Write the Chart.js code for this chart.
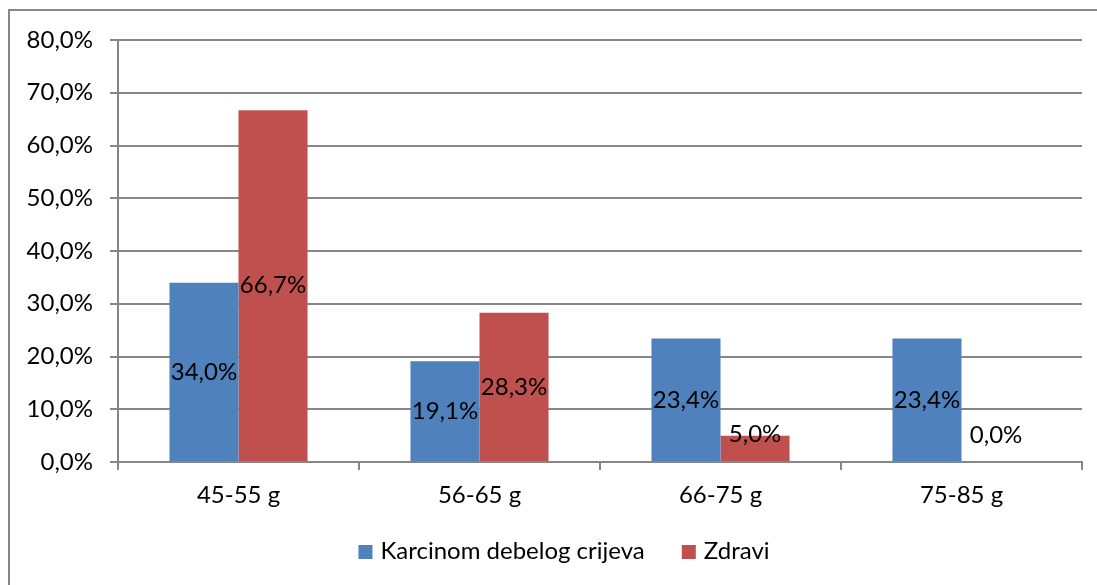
<!DOCTYPE html>
<html>
<head>
<meta charset="utf-8">
<script src="https://cdn.jsdelivr.net/npm/chart.js@4.4.0/dist/chart.umd.min.js"></script>
<style>
  html, body { margin: 0; padding: 0; background: #fff; }
  #wrap { position: relative; width: 1097px; height: 585px; }
</style>
</head>
<body>
<div id="wrap"><canvas id="chart-box1"></canvas></div>
<script>
const categories = ['45-55 g', '56-65 g', '66-75 g', '75-85 g']
const karcinom = [34.0, 19.1, 23.4, 23.4]
const zdravi = [66.7, 28.3, 5.0, 0.0]
const seriesNames = ['Karcinom debelog crijeva', 'Zdravi']
const seriesColors = ['#4F81BD', '#C0504D']
const yTicks = [0, 10, 20, 30, 40, 50, 60, 70, 80]

const FONT = 'Lato, "Liberation Sans", sans-serif'
const fmt = (v) => v.toFixed(1).replace('.', ',') + '%'

// outer frame (only left + top edges are visible in the picture)
const framePlugin = {
    id: 'frame',
    beforeDraw: (chart) => {
        const c = chart.ctx
        c.save()
        c.fillStyle = '#fff'
        c.fillRect(0, 0, chart.width, chart.height)
        c.strokeStyle = '#868686'
        c.lineWidth = 2
        c.beginPath()
        c.moveTo(9, chart.height)
        c.lineTo(9, 10)
        c.lineTo(chart.width, 10)
        c.stroke()
        c.restore()
    }
}

// value labels in the middle of each bar
const labelPlugin = {
    id: 'valueLabels',
    afterDatasetsDraw: (chart) => {
        const c = chart.ctx
        c.save()
        c.font = '24px ' + FONT
        c.fillStyle = '#000'
        c.textAlign = 'center'
        c.textBaseline = 'middle'
        chart.data.datasets.forEach((ds, i) => {
            chart.getDatasetMeta(i).data.forEach((bar, j) => {
                const y = Math.min((bar.y + bar.base) / 2, bar.base - 27)
                c.fillText(fmt(ds.data[j]), bar.x, y)
            })
        })
        c.restore()
    }
}

// legend row at the bottom, spaced like the original
const legendPlugin = {
    id: 'bottomLegend',
    afterDraw: (chart) => {
        const c = chart.ctx
        c.save()
        c.font = '24px ' + FONT
        c.textBaseline = 'middle'
        c.textAlign = 'left'
        const y = 552
        const box = 14, gap = 8, itemGap = 37
        const items = chart.data.datasets.map(ds => ({ text: ds.label, color: ds.backgroundColor }))
        let total = 0
        items.forEach((it, i) => {
            it.w = c.measureText(it.text).width
            total += box + gap + it.w + (i ? itemGap : 0)
        })
        let x = 564 - total / 2
        items.forEach((it) => {
            c.fillStyle = it.color
            c.fillRect(x, y - box / 2, box, box)
            c.fillStyle = '#000'
            c.fillText(it.text, x + box + gap, y - 1)
            x += box + gap + it.w + itemGap
        })
        c.restore()
    }
}

const ctx = document.getElementById('chart-box1')
new Chart(ctx, {
    type: 'bar',
    data: {
        labels: categories,
        datasets: [
            { label: seriesNames[0], data: karcinom, backgroundColor: seriesColors[0] },
            { label: seriesNames[1], data: zdravi, backgroundColor: seriesColors[1] }
        ]
    },
    options: {
        responsive: true,
        maintainAspectRatio: false,
        animation: false,
        categoryPercentage: 0.573,
        barPercentage: 1,
        layout: { padding: { left: 20, right: 15, top: 40, bottom: 0 } },
        scales: {
            x: {
                afterFit: (scale) => { scale.height = 123 },
                grid: { display: true, drawOnChartArea: false, offset: true, color: '#868686', tickLength: 8, lineWidth: 2 },
                border: { color: '#868686', width: 2 },
                ticks: { color: '#000', font: { family: FONT, size: 24 }, padding: 11 }
            },
            y: {
                min: 0,
                max: 80,
                afterBuildTicks: (scale) => { scale.ticks = yTicks.map(v => ({ value: v })) },
                afterFit: (scale) => { scale.width = 98 },
                grid: { color: '#868686', tickLength: 8, lineWidth: 2 },
                border: { color: '#868686', width: 2 },
                ticks: { color: '#000', font: { family: FONT, size: 24 }, padding: 17, callback: (v) => fmt(v) }
            }
        },
        plugins: {
            legend: { display: false },
            tooltip: { enabled: false }
        }
    },
    plugins: [framePlugin, labelPlugin, legendPlugin]
})
</script>
</body>
</html>
